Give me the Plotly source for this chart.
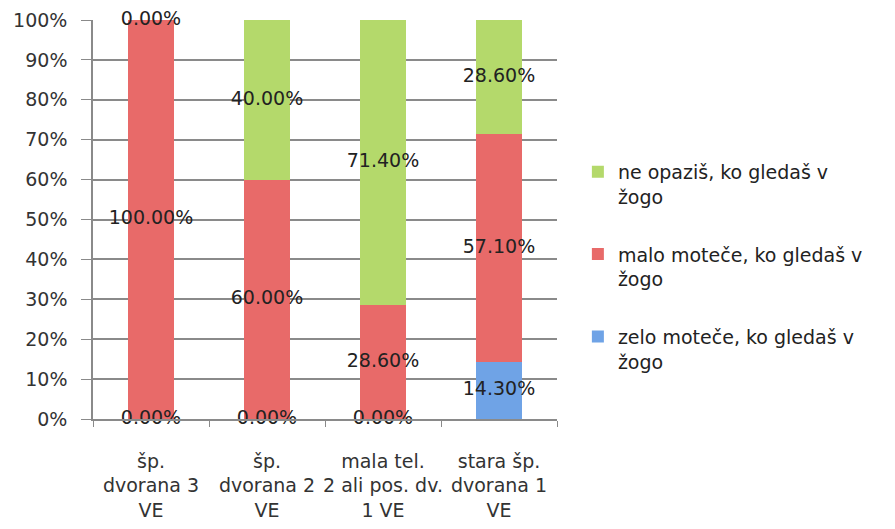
import plotly.graph_objects as go

# categories (x axis) and tick labels
categories = ["šp. dvorana 3 VE", "šp. dvorana 2 VE", "mala tel. 2 ali pos. dv. 1 VE", "stara šp. dvorana 1 VE"]
tick_labels = ["šp.<br>dvorana 3<br>VE", "šp.<br>dvorana 2<br>VE",
               "mala tel.<br>2 ali pos. dv.<br>1 VE", "stara šp.<br>dvorana 1<br>VE"]

# series, bottom to top of the stack (percent)
zelo = [0.0, 0.0, 0.0, 14.3]
malo = [100.0, 60.0, 28.6, 57.1]
ne = [0.0, 40.0, 71.4, 28.6]

series_names = ["zelo moteče, ko gledaš v<br>žogo",
                "malo moteče, ko gledaš v<br>žogo",
                "ne opaziš, ko gledaš v<br>žogo"]
series_values = [zelo, malo, ne]
series_colors = ["#6fa3e6", "#e86a69", "#b4d96b"]
legend_ranks = [3, 2, 1]  # legend lists the top segment first

font_family = "DejaVu Sans"
fig = go.Figure()

base = [0.0] * len(categories)
for name, vals, col, rank in zip(series_names, series_values, series_colors, legend_ranks):
    fig.add_trace(go.Bar(
        x=categories, y=vals, name=name, marker_color=col,
        marker_line_width=0, legendgroup=name, legendrank=rank,
    ))
    # data labels at the middle of each segment (zero segments too)
    mids = [b + v / 2 for b, v in zip(base, vals)]
    fig.add_trace(go.Scatter(
        x=categories, y=mids, mode="text",
        text=[f"{v:.2f}%" for v in vals],
        textposition="middle center",
        textfont=dict(family=font_family, size=19, color="#222"),
        showlegend=False, hoverinfo="skip", cliponaxis=False,
        legendgroup=name, legendrank=rank,
    ))
    base = [b + v for b, v in zip(base, vals)]

# page body adds an 8px offset, margins are set for that
fig.update_layout(
    width=895, height=529,
    margin=dict(l=85, r=346, t=12, b=118),
    paper_bgcolor="white", plot_bgcolor="white",
    barmode="stack", bargap=0.6,
    font=dict(family=font_family, size=19, color="#333"),
    xaxis=dict(
        tickvals=categories, ticktext=tick_labels, tickangle=0,
        showline=True, linecolor="#8a8a8a", linewidth=1.5,
        ticks="outside", tickson="boundaries", ticklen=6, tickcolor="#8a8a8a",
        showgrid=False, automargin=False, ticklabelstandoff=24,
    ),
    yaxis=dict(
        range=[0, 100], dtick=10, ticksuffix="%",
        showline=True, linecolor="#8a8a8a", linewidth=1.5,
        ticks="outside", ticklen=10, tickcolor="#8a8a8a",
        gridcolor="#8a8a8a", gridwidth=1.5,
        ticklabelstandoff=10, zeroline=False, automargin=False,
    ),
    legend=dict(
        x=1.045, y=0.667, xanchor="left", yanchor="top",
        traceorder="grouped", valign="top", tracegroupgap=30,
        font=dict(family=font_family, size=19, color="#222"),
    ),
)

fig.write_html("out.html")
